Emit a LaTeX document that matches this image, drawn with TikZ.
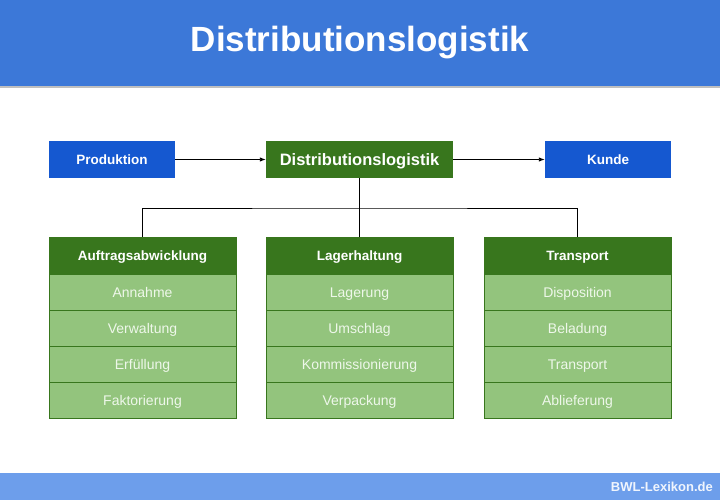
\documentclass[tikz,border=0pt]{standalone}
\usepackage{fontspec}
\setmainfont{Liberation Sans}
\usetikzlibrary{arrows.meta}
\definecolor{hdrblue}{HTML}{3C78D8}
\definecolor{ftrblue}{HTML}{6D9EEB}
\definecolor{boxblue}{HTML}{1558D0}
\definecolor{dkgreen}{HTML}{38761D}
\definecolor{ltgreen}{HTML}{93C47D}
\definecolor{rowtext}{HTML}{EEF7EA}
\begin{document}
\begin{tikzpicture}[x=1pt,y=-1pt,
  fixtext/.style={text height=11pt, text depth=1pt},
  bluebox/.style={fixtext, fill=boxblue, text=white, inner sep=0pt, minimum width=126pt, minimum height=37pt, font=\bfseries\fontsize{13.5}{16}\selectfont},
  centerbox/.style={text height=13pt, text depth=2pt, fill=dkgreen, text=white, inner sep=0pt, minimum width=187pt, minimum height=37pt, font=\bfseries\fontsize{16.5}{19}\selectfont},
  colhead/.style={fixtext, fill=dkgreen, draw=dkgreen, line width=1pt, text=white, inner sep=0pt, minimum width=187pt, minimum height=37pt, font=\bfseries\fontsize{13.5}{16}\selectfont},
  rowbox/.style={fixtext, fill=ltgreen, draw=dkgreen, line width=1pt, text=rowtext, inner sep=0pt, minimum width=187pt, minimum height=36pt, font=\fontsize{14}{16}\selectfont},
  conn/.style={draw=black, line width=0.9pt},
  arr/.style={conn, -{Latex[length=6pt,width=4.5pt]}}
]
\useasboundingbox (0,0) rectangle (720,500);
% header and footer
\fill[hdrblue] (0,0) rectangle (720,86);
\fill[black!25] (0,86) rectangle (720,88.5);
\node[text=white, font=\bfseries\fontsize{35}{40}\selectfont] (title) at (360,43) {Distributionslogistik};
\fill[ftrblue] (0,473) rectangle (720,500);
\node[anchor=east, text=white!90!ftrblue, inner sep=0pt, font=\bfseries\fontsize{13}{15}\selectfont] (foot) at (713,486.5) {BWL-Lexikon.de};
% top row
\node[bluebox] (prod) at (112,159.5) {Produktion};
\node[centerbox] (dl) at (359.5,159.5) {Distributionslogistik};
\node[bluebox] (kunde) at (608,159.5) {Kunde};
\draw[arr] (prod.east) -- (dl.west);
\draw[arr] (dl.east) -- (kunde.west);
% columns
\node[colhead] (h1) at (142.5,255.5) {Auftragsabwicklung};
\node[rowbox] (a1) at (142.5,292) {Annahme};
\node[rowbox] (a2) at (142.5,328) {Verwaltung};
\node[rowbox] (a3) at (142.5,364) {Erfüllung};
\node[rowbox] (a4) at (142.5,400) {Faktorierung};
\node[colhead] (h2) at (359.5,255.5) {Lagerhaltung};
\node[rowbox] (b1) at (359.5,292) {Lagerung};
\node[rowbox] (b2) at (359.5,328) {Umschlag};
\node[rowbox] (b3) at (359.5,364) {Kommissionierung};
\node[rowbox] (b4) at (359.5,400) {Verpackung};
\node[colhead] (h3) at (577.5,255.5) {Transport};
\node[rowbox] (c1) at (577.5,292) {Disposition};
\node[rowbox] (c2) at (577.5,328) {Beladung};
\node[rowbox] (c3) at (577.5,364) {Transport};
\node[rowbox] (c4) at (577.5,400) {Ablieferung};
% tree connectors
\coordinate (j) at (359.5,208);
\draw[conn] (dl.south) -- (j);
\draw[conn] (h1.north) |- (j) -| (h3.north);
\draw[conn] (j) -- (h2.north);
\end{tikzpicture}
\end{document}
